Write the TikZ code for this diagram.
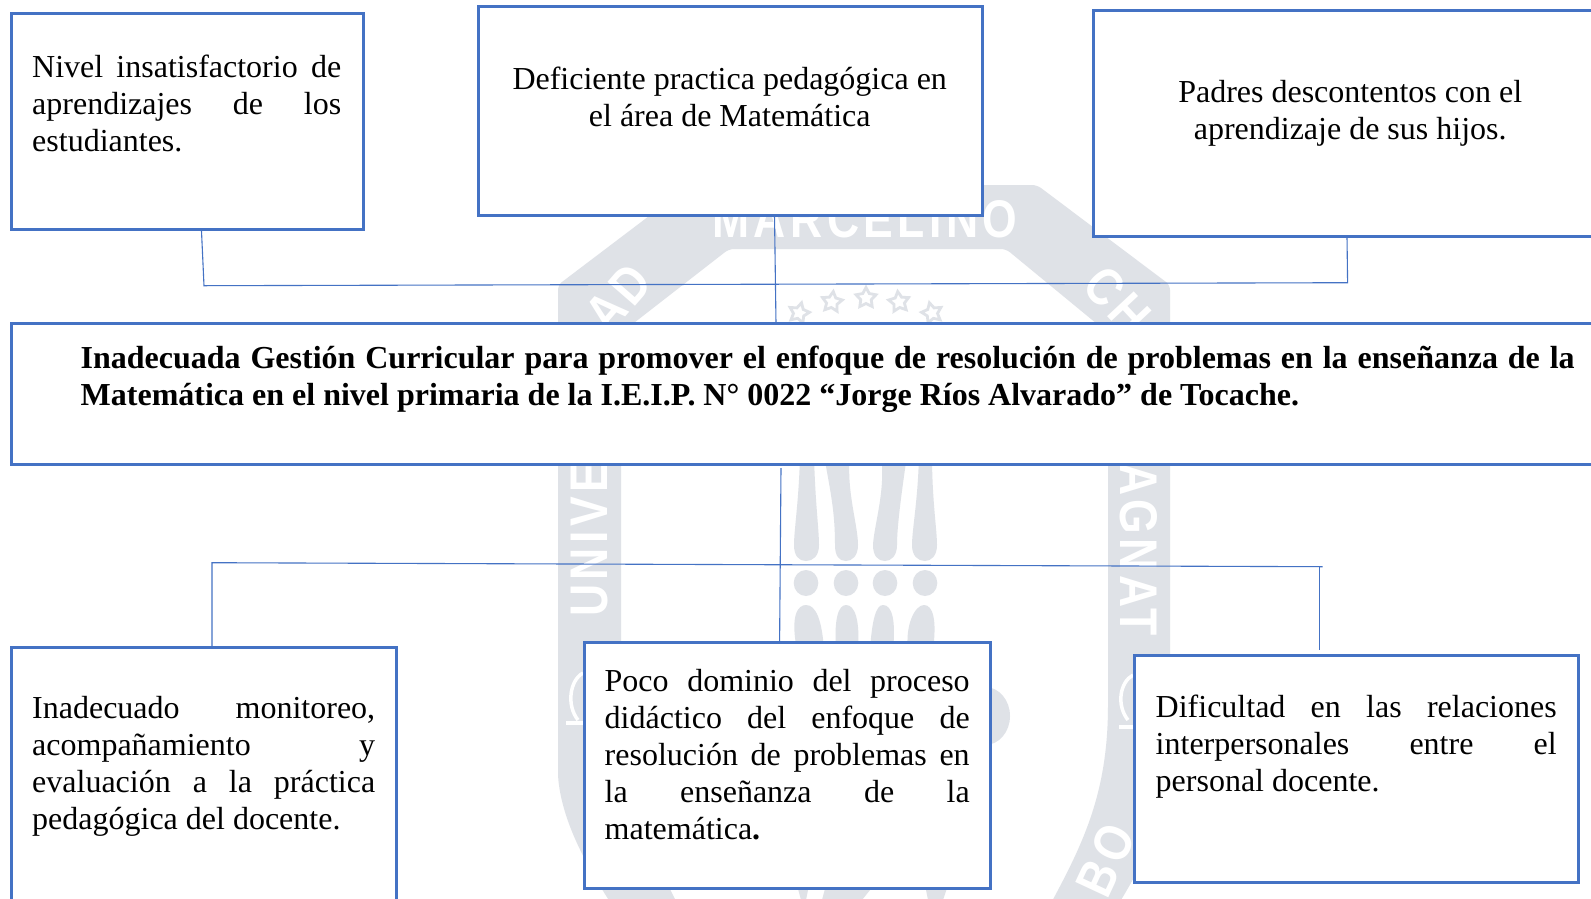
\documentclass[tikz,border=0pt]{standalone}
\usepackage{fontspec}
\setmainfont{Liberation Serif}
\newfontfamily\wmfont[LetterSpace=10]{Liberation Sans}
\usetikzlibrary{shapes.geometric}
\definecolor{boxblue}{HTML}{4472C4}
\definecolor{wmgray}{HTML}{DFE2E7}
\tikzset{
  boxnode/.style={draw=boxblue,line width=3pt,fill=white,rectangle,inner sep=0pt,outer sep=0pt,anchor=north west},
  txt/.style={inner sep=0pt,anchor=base west,text=black,font=\fontsize{32}{37}\selectfont},
  link/.style={draw=boxblue,line width=1.1pt},
  wmletter/.style={inner sep=0pt,text=white,font=\wmfont\bfseries\fontsize{53}{53}\selectfont},
  wmstar/.style={star,star points=5,star point ratio=1.9,draw=wmgray,line width=2.8pt,inner sep=0pt,minimum size=21pt},
}
\newcommand{\jl}[1]{\hbox to\hsize{#1}}
\newcommand{\cl}[1]{\hbox to\hsize{\hss #1\hss}}
\newcommand{\wmtext}[1]{\scalebox{.84}[1]{#1}}
\begin{document}
\begin{tikzpicture}[x=1pt,y=-1pt]
\useasboundingbox (0,0) rectangle (1591,898);
\clip (0,0) rectangle (1591,898);
\fill[white] (0,0) rectangle (1591,898);
% watermark
\fill[wmgray,rounded corners=5pt] (558,285) -- (690,185) -- (1037,185) -- (1170,285) -- (1170,777)
  .. controls (1165,820) and (1145,860) .. (1118,905) -- (1050,905)
  .. controls (1085,840) and (1108,790) .. (1108,700) -- (1108,333) -- (1006,249) -- (729,249) -- (621,333) -- (621,700)
  .. controls (621,790) and (645,840) .. (678,905) -- (612,905)
  .. controls (583,860) and (563,820) .. (558,777) -- cycle;
\fill[wmgray] (800,455) -- (814,455) .. controls (815,500) and (819,530) .. (819,545) .. controls (819,556) and (813,561) .. (806,561) .. controls (799,561) and (794,556) .. (794,545) .. controls (794,530) and (799,500) .. (800,455) -- cycle;
\fill[wmgray] (824,455) -- (850,455) .. controls (846,490) and (858,525) .. (858,545) .. controls (858,556) and (852,561) .. (846,561) .. controls (839,561) and (835,556) .. (835,545) .. controls (835,510) and (830,490) .. (824,455) -- cycle;
\fill[wmgray] (881,455) -- (907,455) .. controls (902,490) and (897,525) .. (897,545) .. controls (897,556) and (891,561) .. (885,561) .. controls (878,561) and (873,556) .. (873,545) .. controls (874,525) and (886,490) .. (881,455) -- cycle;
\fill[wmgray] (919,455) -- (932,455) .. controls (932,500) and (937,530) .. (937,545) .. controls (937,556) and (931,561) .. (925,561) .. controls (918,561) and (912,556) .. (912,545) .. controls (912,530) and (918,500) .. (919,455) -- cycle;
\foreach \cx in {806,846,885,925} {\fill[wmgray] (\cx,583) ellipse [x radius=12.3pt,y radius=13pt];}
\fill[wmgray] (797,650) .. controls (790,615) and (798,605) .. (806,605) .. controls (816,605) and (822,620) .. (824,650) -- cycle;
\fill[wmgray] (836,650) .. controls (834,620) and (838,605) .. (846,605) .. controls (855,605) and (860,620) .. (858,650) -- cycle;
\fill[wmgray] (870,650) .. controls (872,620) and (876,605) .. (883,605) .. controls (892,605) and (896,620) .. (893,650) -- cycle;
\fill[wmgray] (908,650) .. controls (905,625) and (915,605) .. (924,605) .. controls (933,605) and (937,620) .. (933,650) -- cycle;
\fill[wmgray] (797,885) -- (809,885) -- (806,900) -- (801,900) -- cycle;
\fill[wmgray] (826,885) -- (874,885) -- (862,900) -- (822,900) -- cycle;
\fill[wmgray] (925,885) -- (948,885) -- (943,900) -- (928,900) -- cycle;
\fill[wmgray] (985,716) ellipse [x radius=25pt,y radius=29pt];
\draw[white,line width=3.5pt] (583,673) .. controls (570,680) and (566,705) .. (578,720);
\draw[white,line width=3.5pt] (566,723) -- (586,723);
\draw[white,line width=3.5pt] (1133,675) .. controls (1120,682) and (1116,705) .. (1128,720);
\draw[white,line width=3.5pt] (1119,727) -- (1136,727);
\node[wmletter,anchor=base] (wmA) at (865,237) {\wmtext{MARCELINO}};
\node[wmletter,rotate=90,anchor=west] (wmB) at (590,617) {\wmtext{UNIVE}};
\node[wmletter,rotate=-90,anchor=east] (wmC) at (1139,636) {\wmtext{AGNAT}};
\node[wmletter,rotate=49] (wmD) at (618,298) {\wmtext{AD}};
\node[wmletter,rotate=-47] (wmE) at (1117,300) {\wmtext{CH}};
\node[wmletter,rotate=65] (wmF) at (1106,860) {\wmtext{BO}};
\node[wmstar,rotate=-14] (s1) at (799,313) {};
\node[wmstar,rotate=-7] (s2) at (832,302) {};
\node[wmstar] (s3) at (866,298) {};
\node[wmstar,rotate=7] (s4) at (899,302) {};
\node[wmstar,rotate=14] (s5) at (932,313) {};
% boxes
\node[boxnode,minimum width=352pt,minimum height=216pt] (b1) at (11,13) {};
\node[boxnode,minimum width=503.5pt,minimum height=209pt] (b2) at (478.5,6) {};
\node[boxnode,minimum width=520pt,minimum height=226pt] (b3) at (1093.5,10) {};
\node[boxnode,minimum width=1600pt,minimum height=140.5pt] (b4) at (11,323.5) {};
\node[boxnode,minimum width=385pt,minimum height=270pt] (b5) at (11,647) {};
\node[boxnode,minimum width=406.5pt,minimum height=246.5pt] (b6) at (584,642) {};
\node[boxnode,minimum width=444pt,minimum height=226.5pt] (b7) at (1134,655.5) {};
% connectors
\draw[link] ([xshift=190.5pt,yshift=-2pt]b1.south west) -- (204,285.7) coordinate (j1) -- (1347.6,282.7) coordinate (j2) -- ([xshift=253.5pt,yshift=-1pt]b3.south west);
\draw[link] ([xshift=296pt]b2.south west) -- ([xshift=765pt]b4.north west);
\draw[link] ([xshift=770pt,yshift=-4pt]b4.south west) -- ([xshift=195.6pt]b6.north west);
\draw[link] ([xshift=201pt]b5.north west) -- (212,562.7) coordinate (j3) -- (1322.6,566.7) coordinate (j4);
\draw[link] (1319.6,566.5) coordinate (j5) -- ([xshift=185.6pt,yshift=5.5pt]b7.north west);
% texts
\node[txt] (t1) at (32,77.5) {\vtop{\hsize=309pt
  \jl{Nivel insatisfactorio de}
  \jl{aprendizajes de los}
  \hbox{estudiantes.}}};
\node[txt] (t2) at (479,89) {\vtop{\hsize=501pt
  \cl{Deficiente practica pedagógica en}
  \cl{el área de Matemática}}};
\node[txt] (t3) at (1100,102) {\vtop{\hsize=500pt
  \cl{Padres descontentos con el}
  \cl{aprendizaje de sus hijos.}}};
\node[txt] (t4) at (80.5,368) {\vtop{\hsize=1494pt\bfseries
  \jl{Inadecuada Gestión Curricular para promover el enfoque de resolución de problemas en la enseñanza de la}
  \hbox{Matemática en el nivel primaria de la I.E.I.P. N° 0022 “Jorge Ríos Alvarado” de Tocache.}}};
\node[txt] (t5) at (32,718) {\vtop{\hsize=343pt
  \jl{Inadecuado monitoreo,}
  \jl{acompañamiento y}
  \jl{evaluación a la práctica}
  \hbox{pedagógica del docente.}}};
\node[txt] (t6) at (604.5,691) {\vtop{\hsize=365pt
  \jl{Poco dominio del proceso}
  \jl{didáctico del enfoque de}
  \jl{resolución de problemas en}
  \jl{la enseñanza de la}
  \hbox{matemática\textbf{.}}}};
\node[txt] (t7) at (1155.5,717) {\vtop{\hsize=401pt
  \jl{Dificultad en las relaciones}
  \jl{interpersonales entre el}
  \hbox{personal docente.}}};
\end{tikzpicture}
\end{document}
